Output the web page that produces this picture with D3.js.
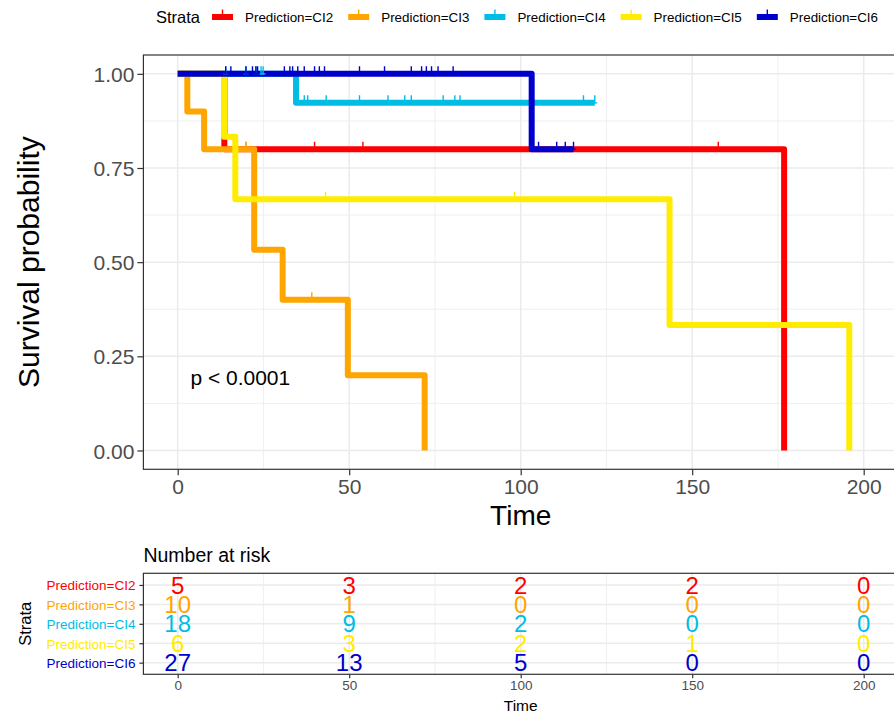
<!DOCTYPE html>
<html>
<head>
<meta charset="utf-8">
<script src="https://cdn.jsdelivr.net/npm/d3@7"></script>
<style>
  body { margin: 0; background: #fff; }
  svg { display: block; font-family: "Liberation Sans", Arial, sans-serif; }
</style>
</head>
<body>
<div id="chart"></div>
<script>
// strata names and colours (same order as the legend and the risk table rows)
var strata = ["Prediction=CI2", "Prediction=CI3", "Prediction=CI4", "Prediction=CI5", "Prediction=CI6"];
var colors = ["#FF0000", "#FFA500", "#00BDE6", "#FFEC00", "#0000CC"];

// Kaplan-Meier steps: time of each step and survival after it
var ci2Times = [0, 13.6, 176.8];
var ci2Surv  = [1, 0.8, 0];
var ci3Times = [0, 2.8, 7.7, 22.3, 30.6, 49.6, 72.0];
var ci3Surv  = [1, 0.9, 0.8, 0.533, 0.4, 0.2, 0];
var ci4Times = [0, 34.5, 121.6];
var ci4Surv  = [1, 0.923, 0.923];
var ci5Times = [0, 13.5, 16.8, 143.4, 195.8];
var ci5Surv  = [1, 0.833, 0.667, 0.333, 0];
var ci6Times = [0, 103.2, 115.4];
var ci6Surv  = [1, 0.8, 0.8];

// censoring times (the "+" marks)
var ci2Censor = [39.9, 54.0, 157.6];
var ci3Censor = [19.9, 19.9, 39.1];
var ci4Censor = [14.0, 19.9, 22.8, 24.3, 24.9, 36.9, 37.9, 43.3, 53.0, 61.3, 66.2, 68.1, 77.4, 80.8, 82.3, 118.3, 121.6];
var ci5Censor = [43.1, 98.2];
var ci6Censor = [14.0, 15.5, 19.9, 21.8, 22.8, 23.3, 31.1, 32.7, 33.5, 35.0, 36.9, 39.9, 41.3, 42.8,
                 53.0, 60.3, 68.1, 71.1, 72.5, 74.0, 75.9, 80.3, 105.2, 110.5, 113.0, 115.4];

// number at risk table
var riskTimes = [0, 50, 100, 150, 200];
var ci2Risk = [5, 3, 2, 2, 0];
var ci3Risk = [10, 1, 0, 0, 0];
var ci4Risk = [18, 9, 2, 0, 0];
var ci5Risk = [6, 3, 2, 1, 0];
var ci6Risk = [27, 13, 5, 0, 0];

var xTicks = [0, 50, 100, 150, 200];
var xMinor = [25, 75, 125, 175];
var yTicks = [0, 0.25, 0.5, 0.75, 1];
var yMinor = [0.125, 0.375, 0.625, 0.875];
var pLabel = "p < 0.0001";

var curves = [
  { times: ci2Times, surv: ci2Surv, censor: ci2Censor, risk: ci2Risk },
  { times: ci3Times, surv: ci3Surv, censor: ci3Censor, risk: ci3Risk },
  { times: ci4Times, surv: ci4Surv, censor: ci4Censor, risk: ci4Risk },
  { times: ci5Times, surv: ci5Surv, censor: ci5Censor, risk: ci5Risk },
  { times: ci6Times, surv: ci6Surv, censor: ci6Censor, risk: ci6Risk }
];

var W = 894, H = 714;
var gridCol = "#EBEBEB", axisCol = "#333333", tickTextCol = "#4D4D4D";

var svg = d3.select("#chart").append("svg")
  .attr("width", W)
  .attr("height", H);

// ---------- scales ----------
var x = d3.scaleLinear().domain([-10, 210]).range([143.4, 898]);
var y = d3.scaleLinear().domain([-0.05, 1.05]).range([469.3, 55]);
var panelTop = 55, panelBottom = 469.3, panelLeft = 143.4, panelRight = 898;

// step survival value at time t (no interpolation, just the step)
function survAt(c, t) {
  var s = c.surv[0];
  for (var i = 0; i < c.times.length; i++) {
    if (c.times[i] <= t) s = c.surv[i];
  }
  return s;
}

// ---------- main panel grid ----------
var main = svg.append("g");

main.selectAll(".xminor").data(xMinor).enter().append("line")
  .attr("x1", function(d) { return x(d); }).attr("x2", function(d) { return x(d); })
  .attr("y1", panelTop).attr("y2", panelBottom)
  .attr("stroke", gridCol).attr("stroke-width", 0.8);
main.selectAll(".yminor").data(yMinor).enter().append("line")
  .attr("x1", panelLeft).attr("x2", panelRight)
  .attr("y1", function(d) { return y(d); }).attr("y2", function(d) { return y(d); })
  .attr("stroke", gridCol).attr("stroke-width", 0.8);
main.selectAll(".xmajor").data(xTicks).enter().append("line")
  .attr("x1", function(d) { return x(d); }).attr("x2", function(d) { return x(d); })
  .attr("y1", panelTop).attr("y2", panelBottom)
  .attr("stroke", gridCol).attr("stroke-width", 1.5);
main.selectAll(".ymajor").data(yTicks).enter().append("line")
  .attr("x1", panelLeft).attr("x2", panelRight)
  .attr("y1", function(d) { return y(d); }).attr("y2", function(d) { return y(d); })
  .attr("stroke", gridCol).attr("stroke-width", 1.5);

// ---------- survival curves ----------
var stepLine = d3.line()
  .x(function(d) { return x(d[0]); })
  .y(function(d) { return y(d[1]); })
  .curve(d3.curveStepAfter);

curves.forEach(function(c, i) {
  var pts = c.times.map(function(t, j) { return [t, c.surv[j]]; });
  main.append("path")
    .attr("d", stepLine(pts))
    .attr("fill", "none")
    .attr("stroke", colors[i])
    .attr("stroke-width", 6)
    .attr("stroke-linejoin", "round")
    .attr("stroke-linecap", "butt");
});

// censor marks on top of all lines; only the upper stroke sticks out of the thick line
curves.forEach(function(c, i) {
  main.selectAll(".cens" + i).data(c.censor).enter().append("path")
    .attr("d", function(t) {
      var cx = x(t), cy = y(survAt(c, t));
      return "M" + (cx - 2.5) + "," + cy + "H" + (cx + 2.5) + "M" + cx + "," + (cy - 7.5) + "V" + (cy + 1);
    })
    .attr("stroke", colors[i])
    .attr("stroke-width", 1.4)
    .attr("fill", "none");
});

// p-value
main.append("text")
  .attr("x", x(3.7))
  .attr("y", 385)
  .attr("font-size", "21px")
  .attr("fill", "#000")
  .text(pLabel);

// panel border + axes
main.append("rect")
  .attr("x", panelLeft).attr("y", panelTop)
  .attr("width", panelRight - panelLeft).attr("height", panelBottom - panelTop)
  .attr("fill", "none").attr("stroke", axisCol).attr("stroke-width", 1.2);

var yAxis = main.append("g")
  .attr("transform", "translate(" + panelLeft + ",0)")
  .call(d3.axisLeft(y).tickValues(yTicks).tickFormat(d3.format(".2f")).tickSize(6).tickSizeOuter(0));
var xAxis = main.append("g")
  .attr("transform", "translate(0," + panelBottom + ")")
  .call(d3.axisBottom(x).tickValues(xTicks).tickSize(6).tickSizeOuter(0));

[xAxis, yAxis].forEach(function(a) {
  a.select(".domain").remove();
  a.selectAll(".tick line").attr("stroke", axisCol).attr("stroke-width", 1.2);
  a.selectAll(".tick text")
    .attr("fill", tickTextCol)
    .style("font-size", "21px")
    .style("font-family", "'Liberation Sans', Arial, sans-serif");
});
yAxis.selectAll(".tick text").attr("x", -9).attr("dy", "0.36em");
xAxis.selectAll(".tick text").attr("y", 9).attr("dy", "0.75em");

// axis titles
svg.append("text")
  .attr("transform", "translate(39," + ((panelTop + panelBottom) / 2) + ") rotate(-90)")
  .attr("text-anchor", "middle")
  .attr("font-size", "30px")
  .text("Survival probability");
svg.append("text")
  .attr("x", x(100))
  .attr("y", 525)
  .attr("text-anchor", "middle")
  .attr("font-size", "28px")
  .text("Time");

// ---------- legend ----------
var legend = svg.append("g").attr("transform", "translate(0,17)");
legend.append("text")
  .attr("x", 156).attr("dy", "0.36em")
  .attr("font-size", "16.5px")
  .text("Strata");

var lx = 212;
strata.forEach(function(s, i) {
  var key = legend.append("g").attr("transform", "translate(" + lx + ",0)");
  key.append("line")
    .attr("x1", 0).attr("x2", 21).attr("y1", 0).attr("y2", 0)
    .attr("stroke", colors[i]).attr("stroke-width", 6);
  key.append("path")
    .attr("d", "M10.5,-7.5V0")
    .attr("stroke", colors[i]).attr("stroke-width", 1.4);
  var t = legend.append("text")
    .attr("x", lx + 33).attr("dy", "0.36em")
    .attr("font-size", "13.4px")
    .text(s);
  lx = lx + 33 + t.node().getComputedTextLength() + 15;
});

// ---------- number at risk table ----------
var tTop = 573.3, tBottom = 674.3;
var ty = d3.scalePoint().domain(strata).range([tTop, tBottom]).padding(0.6);
var table = svg.append("g");

svg.append("text")
  .attr("x", panelLeft).attr("y", 562)
  .attr("font-size", "19.5px")
  .text("Number at risk");

table.selectAll(".txminor").data(xMinor).enter().append("line")
  .attr("x1", function(d) { return x(d); }).attr("x2", function(d) { return x(d); })
  .attr("y1", tTop).attr("y2", tBottom)
  .attr("stroke", gridCol).attr("stroke-width", 0.8);
table.selectAll(".txmajor").data(xTicks).enter().append("line")
  .attr("x1", function(d) { return x(d); }).attr("x2", function(d) { return x(d); })
  .attr("y1", tTop).attr("y2", tBottom)
  .attr("stroke", gridCol).attr("stroke-width", 1.5);
table.selectAll(".tymajor").data(strata).enter().append("line")
  .attr("x1", panelLeft).attr("x2", panelRight)
  .attr("y1", function(d) { return ty(d); }).attr("y2", function(d) { return ty(d); })
  .attr("stroke", gridCol).attr("stroke-width", 1.5);

curves.forEach(function(c, i) {
  table.selectAll(".risk" + i).data(c.risk).enter().append("text")
    .attr("x", function(d, j) { return x(riskTimes[j]); })
    .attr("y", ty(strata[i]))
    .attr("dy", "0.36em")
    .attr("text-anchor", "middle")
    .attr("font-size", "24px")
    .attr("fill", colors[i])
    .text(function(d) { return d; });
});

table.append("rect")
  .attr("x", panelLeft).attr("y", tTop)
  .attr("width", panelRight - panelLeft).attr("height", tBottom - tTop)
  .attr("fill", "none").attr("stroke", axisCol).attr("stroke-width", 1.2);

var tyAxis = table.append("g")
  .attr("transform", "translate(" + panelLeft + ",0)")
  .call(d3.axisLeft(ty).tickSize(4).tickSizeOuter(0));
var txAxis = table.append("g")
  .attr("transform", "translate(0," + tBottom + ")")
  .call(d3.axisBottom(x).tickValues(xTicks).tickSize(4).tickSizeOuter(0));

[tyAxis, txAxis].forEach(function(a) {
  a.select(".domain").remove();
  a.selectAll(".tick line").attr("stroke", axisCol).attr("stroke-width", 1.2);
  a.selectAll(".tick text").style("font-family", "'Liberation Sans', Arial, sans-serif");
});
tyAxis.selectAll(".tick text")
  .attr("x", -8).attr("dy", "0.36em")
  .style("font-size", "13.5px")
  .attr("fill", function(d, i) { return colors[i]; });
txAxis.selectAll(".tick text")
  .attr("y", 6).attr("dy", "0.75em")
  .style("font-size", "13.5px")
  .attr("fill", tickTextCol);

svg.append("text")
  .attr("transform", "translate(31," + ((tTop + tBottom) / 2) + ") rotate(-90)")
  .attr("text-anchor", "middle")
  .attr("font-size", "16.5px")
  .text("Strata");
svg.append("text")
  .attr("x", x(100)).attr("y", 711)
  .attr("text-anchor", "middle")
  .attr("font-size", "15.5px")
  .text("Time");
</script>
</body>
</html>
